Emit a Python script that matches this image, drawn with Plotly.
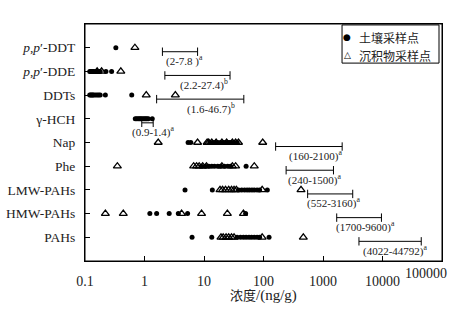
import math
import plotly.graph_objects as go

# ---------------- data ----------------
categories = ["<i>p</i>,<i>p</i>′-DDT", "<i>p</i>,<i>p</i>′-DDE", "DDTs", "γ-HCH",
              "Nap", "Phe", "LMW-PAHs", "HMW-PAHs", "PAHs"]

# soil sampling sites (filled circles)
soil_ddt = [0.33]
soil_dde = [0.12, 0.125, 0.13, 0.135, 0.14, 0.15, 0.16, 0.17, 0.18, 0.225, 0.28]
soil_ddts = [0.12, 0.125, 0.13, 0.135, 0.14, 0.15, 0.16, 0.17, 0.18, 0.22, 0.61]
soil_hch = [0.70, 0.74, 0.78, 0.82, 0.86, 0.90, 0.95, 1.0, 1.05, 1.1, 1.16, 1.35]
soil_nap = [5.4, 6.0, 12.5, 14, 15.5, 17, 19, 21, 23, 25, 27, 29, 32, 36]
soil_phe = [9, 10.5, 12, 13.5, 15, 17, 19, 22, 25, 28, 51]
soil_lmw = [4.8, 13.8, 38, 43, 48, 53, 58, 64, 70, 78, 86, 116]
soil_hmw = [1.23, 1.6, 2.6, 3.7, 5.3, 50]
soil_pahs = [6.3, 13.5, 36, 41, 46, 51, 57, 63, 70, 78, 86, 124]

# sediment sampling sites (open triangles)
sed_ddt = [0.69]
sed_dde = [0.16, 0.19, 0.40]
sed_ddts = [1.07, 3.3]
sed_hch = []
sed_nap = [1.7, 7.8, 11.3, 12, 13.5, 16, 20, 24, 30, 34, 38, 97]
sed_phe = [0.35, 6.7, 7.5, 8.3, 9.5, 11, 20, 30, 34, 70]
sed_lmw = [18.6, 20.5, 23, 26, 29, 32, 35, 95, 427]
sed_hmw = [0.22, 0.44, 4.2, 9.1, 24.7, 46]
sed_pahs = [19.3, 21, 23.5, 26, 29, 32, 95, 467]

# literature ranges
range_low = [2, 2.2, 1.6, 0.9, 160, 240, 552, 1700, 4022]
range_high = [7.8, 27.4, 46.7, 1.4, 2100, 1500, 3160, 9600, 44792]
range_text = ["(2-7.8 )", "(2.2-27.4)", "(1.6-46.7)", "(0.9-1.4)", "(160-2100)",
              "(240-1500)", "(552-3160)", "(1700-9600)", "(4022-44792)"]
range_sup = ["a", "b", "b", "a", "a", "a", "a", "a", "a"]

tick_vals = [0.1, 1, 10, 100, 1000, 10000, 100000]
tick_text = ["0.1", "1", "10", "100", "1000", "10000", "100000"]
x_title = "<span style='font-size:13px'>浓度</span>/(ng/g)"

soil_rows = [soil_ddt, soil_dde, soil_ddts, soil_hch, soil_nap, soil_phe, soil_lmw, soil_hmw, soil_pahs]
sed_rows = [sed_ddt, sed_dde, sed_ddts, sed_hch, sed_nap, sed_phe, sed_lmw, sed_hmw, sed_pahs]

# ---------------- figure ----------------
SERIF = "Liberation Serif, Times New Roman, serif"
CJK = "Liberation Serif, Noto Sans CJK SC, serif"
TXT = "#222"
BAR_OFF = 0.17
label_xshift = [2, 13, 28, -12, 11, 0, -3, -3, 2]

fig = go.Figure()

sx, sy = [], []
for i, row in enumerate(soil_rows):
    sx += row
    sy += [i] * len(row)
tx, ty = [], []
for i, row in enumerate(sed_rows):
    tx += row
    ty += [i] * len(row)

fig.add_trace(go.Scatter(x=sx, y=sy, mode="markers", showlegend=False,
                         marker=dict(symbol="circle", size=5, color="black")))
fig.add_trace(go.Scatter(x=tx, y=ty, mode="markers", showlegend=False,
                         marker=dict(symbol="triangle-up-open", size=7, color="black",
                                     line=dict(width=1.3, color="black"))))

bx, by = [], []
for i, (lo, hi) in enumerate(zip(range_low, range_high)):
    bx += [lo, hi, None]
    by += [i + BAR_OFF, i + BAR_OFF, None]
fig.add_trace(go.Scatter(x=bx, y=by, mode="lines+markers", showlegend=False,
                         line=dict(color="black", width=1),
                         marker=dict(symbol="line-ns", size=6, color="black",
                                     line=dict(width=1, color="black"))))

for i, (lo, txt, sup) in enumerate(zip(range_low, range_text, range_sup)):
    fig.add_annotation(x=math.log10(lo), y=i + BAR_OFF, xref="x", yref="y",
                       text=f"{txt}<sup>{sup}</sup>", showarrow=False,
                       xanchor="left", yanchor="middle", xshift=label_xshift[i], yshift=-9,
                       font=dict(family=SERIF, size=11, color=TXT))

# plot frame
fig.add_shape(type="rect", xref="paper", yref="paper", x0=0, x1=1, y0=0, y1=1,
              line=dict(color="black", width=1), layer="above")

# manual legend
fig.add_shape(type="rect", xref="paper", yref="paper", x0=0.72, x1=0.9916, y0=0.835, y1=0.996,
              line=dict(color="black", width=1), fillcolor="white")
fig.add_annotation(xref="paper", yref="paper", x=0.735, y=0.944, text="●", showarrow=False,
                   xanchor="center", yanchor="middle", font=dict(family="DejaVu Sans", size=9, color="black"))
fig.add_annotation(xref="paper", yref="paper", x=0.735, y=0.869, text="△", showarrow=False,
                   xanchor="center", yanchor="middle", font=dict(family="DejaVu Sans", size=9, color="black"))
fig.add_annotation(xref="paper", yref="paper", x=0.762, y=0.944, text="土壤采样点", showarrow=False,
                   xanchor="left", yanchor="middle", font=dict(family="Noto Sans CJK SC", size=12, color=TXT))
fig.add_annotation(xref="paper", yref="paper", x=0.762, y=0.869, text="沉积物采样点", showarrow=False,
                   xanchor="left", yanchor="middle", font=dict(family="Noto Sans CJK SC", size=12, color=TXT))

# last x tick label drawn shifted inward so it fits in the picture (as in the reference)
axis_ticktext = tick_text[:-1] + [""]
fig.add_annotation(xref="paper", yref="paper", x=1, y=0, text=tick_text[-1], showarrow=False,
                   xanchor="right", yanchor="top", xshift=7, yshift=-3,
                   font=dict(family=SERIF, size=14, color=TXT))

# x-axis title
fig.add_annotation(xref="paper", yref="paper", x=0.5, y=0, text=x_title, showarrow=False,
                   xanchor="center", yanchor="top", yshift=-24,
                   font=dict(family=CJK, size=15, color=TXT))

fig.update_layout(
    width=461, height=311,
    margin=dict(l=85, r=19, t=24, b=50),
    paper_bgcolor="white", plot_bgcolor="white",
    font=dict(family=SERIF, size=13.5, color=TXT),
    xaxis=dict(type="log", range=[-1, 5.0001], tickvals=tick_vals, ticktext=axis_ticktext,
               ticks="inside", ticklen=5, tickcolor="black", showline=True, linecolor="black",
               linewidth=1, mirror=True, showgrid=False, zeroline=False, automargin=False,
               tickfont=dict(family=SERIF, size=14, color=TXT), ticklabelstandoff=7),
    yaxis=dict(range=[9, -1], tickvals=list(range(len(categories))), ticktext=categories,
               ticks="inside", ticklen=5, tickcolor="black", showline=True, linecolor="black",
               linewidth=1, mirror=True, showgrid=False, zeroline=False, automargin=False,
               tickfont=dict(family=SERIF, size=13.5, color=TXT), ticklabelstandoff=6),
)

fig.write_html("out.html", config={"displayModeBar": False},
               post_script="document.body.style.margin='0';")
